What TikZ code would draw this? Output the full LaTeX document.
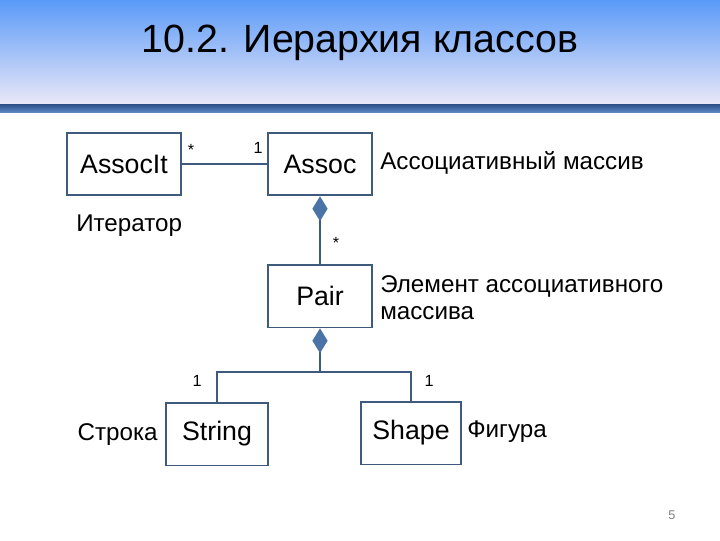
\documentclass[tikz,border=0pt]{standalone}
\usepackage{fontspec}
\setmainfont{Liberation Sans}
\usetikzlibrary{arrows.meta}
\definecolor{linecol}{HTML}{3E5B7E}
\definecolor{diacol}{HTML}{4A74A5}
\definecolor{skytop}{HTML}{5A9AF8}
\definecolor{skymid}{HTML}{A9C7EF}
\definecolor{skylow}{HTML}{EAE8F7}
\definecolor{bartop}{HTML}{2B4F85}
\definecolor{barlow}{HTML}{5B86C2}

\begin{document}
\begin{tikzpicture}[x=0.025cm, y=-0.025cm,
  cls/.style={draw=linecol, line width=1.3pt, minimum height=1.57cm, inner sep=0pt,
    font=\fontsize{19}{22}\selectfont},
  lbl/.style={inner sep=0pt, font=\fontsize{17.2}{19}\selectfont},
  mult/.style={inner sep=0pt, font=\fontsize{11.5}{13}\selectfont},
  assoc/.style={draw=linecol, line width=2pt},
  comp/.style={assoc, {Diamond[length=0.62cm, width=0.38cm, fill=diacol, color=diacol]}-}]
  \useasboundingbox (0,0) rectangle (720,540);

  % Title band
  \shade[top color=skytop, middle color=skymid, bottom color=skylow] (0,0) rectangle (720,104);
  \shade[top color=bartop, bottom color=barlow] (0,104) rectangle (720,112);
  \node[font=\fontsize{28}{32}\selectfont] (title) at (360,43) {10.2. Иерархия классов};

  % Classes
  \node[cls, minimum width=2.85cm] (associt) at (124,164) {AssocIt};
  \node[cls, minimum width=2.6cm] (assocn) at (320,164) {Assoc};
  \node[cls, minimum width=2.58cm] (pair) at (320,296) {Pair};
  \node[cls, minimum width=2.53cm] (string) at (217,434) {String};
  \node[cls, minimum width=2.5cm] (shape) at (411,433) {Shape};

  % Descriptions
  \node[lbl, anchor=west] (iter) at (76,226) {Итератор};
  \node[lbl, anchor=west] (assocdesc) at (380,163) {Ассоциативный массив};
  \node[lbl, anchor=west, align=left] (pairdesc) at (380,298) {Элемент ассоциативного\\массива};
  \node[lbl, anchor=east] (strdesc) at (158,435) {Строка};
  \node[lbl, anchor=west] (shapedesc) at (467,432) {Фигура};

  % Links
  \draw[assoc] (associt) -- (assocn);
  \draw[comp] (assocn) -- (pair);
  \coordinate (fork) at (320,372);
  \draw[comp] (pair) -- (fork);
  \draw[assoc] (string.north) |- (fork) -| (shape.north);

  % Multiplicities
  \node[mult] (m1) at (191,150) {*};
  \node[mult] (m2) at (258,148) {1};
  \node[mult] (m3) at (336,243) {*};
  \node[mult] (m4) at (197,381) {1};
  \node[mult] (m5) at (429,381) {1};

  % Page number
  \node[font=\fontsize{9}{10}\selectfont, text=gray] (pagenum) at (672,515) {5};
\end{tikzpicture}
\end{document}
